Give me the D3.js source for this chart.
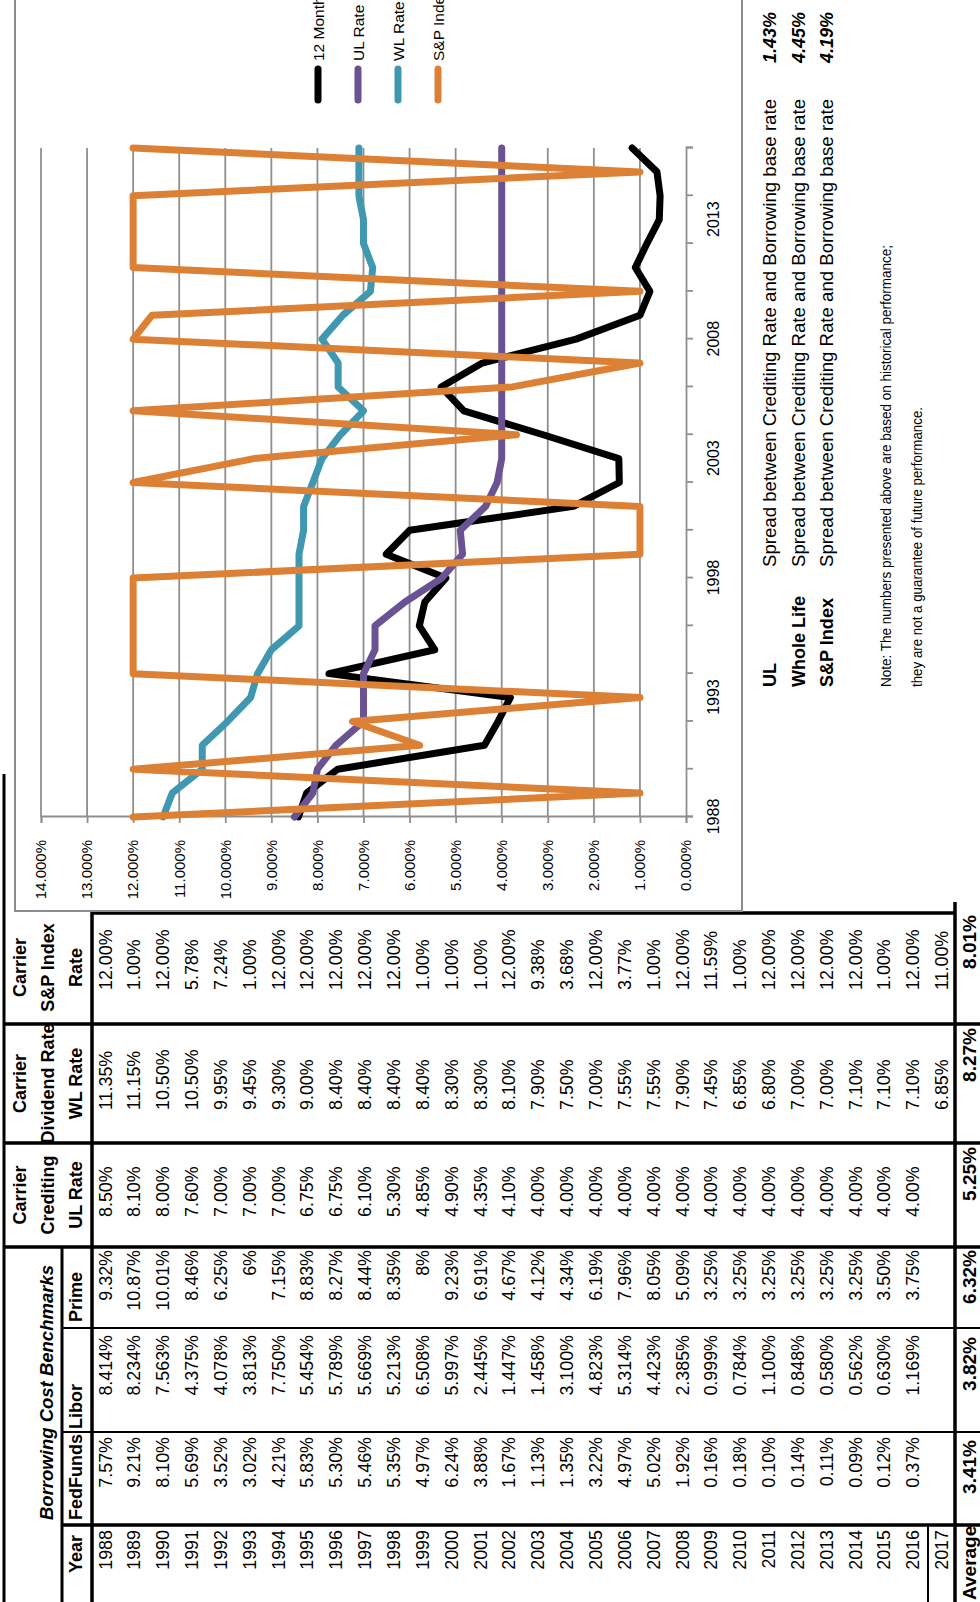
<!DOCTYPE html>
<html><head><meta charset="utf-8">
<script src="https://cdn.jsdelivr.net/npm/d3@7"></script>
<style>body{margin:0;background:#fff}svg{display:block}</style>
</head><body>
<svg id="c" width="980" height="1602"></svg>
<script>
// ---------------- data ----------------
const years = [1988,1989,1990,1991,1992,1993,1994,1995,1996,1997,1998,1999,2000,2001,2002,2003,2004,2005,2006,2007,2008,2009,2010,2011,2012,2013,2014,2015,2016,2017];
const fedFunds = [7.57,9.21,8.10,5.69,3.52,3.02,4.21,5.83,5.30,5.46,5.35,4.97,6.24,3.88,1.67,1.13,1.35,3.22,4.97,5.02,1.92,0.16,0.18,0.10,0.14,0.11,0.09,0.12,0.37];
const libor = [8.414,8.234,7.563,4.375,4.078,3.813,7.750,5.454,5.789,5.669,5.213,6.508,5.997,2.445,1.447,1.458,3.100,4.823,5.314,4.423,2.385,0.999,0.784,1.100,0.848,0.580,0.562,0.630,1.169];
const prime = [9.32,10.87,10.01,8.46,6.25,6,7.15,8.83,8.27,8.44,8.35,8,9.23,6.91,4.67,4.12,4.34,6.19,7.96,8.05,5.09,3.25,3.25,3.25,3.25,3.25,3.25,3.50,3.75];
const ulRate = [8.50,8.10,8.00,7.60,7.00,7.00,7.00,6.75,6.75,6.10,5.30,4.85,4.90,4.35,4.10,4.00,4.00,4.00,4.00,4.00,4.00,4.00,4.00,4.00,4.00,4.00,4.00,4.00,4.00];
const wlRate = [11.35,11.15,10.50,10.50,9.95,9.45,9.30,9.00,8.40,8.40,8.40,8.40,8.30,8.30,8.10,7.90,7.50,7.00,7.55,7.55,7.90,7.45,6.85,6.80,7.00,7.00,7.10,7.10,7.10,6.85];
const spRate = [12.00,1.00,12.00,5.78,7.24,1.00,12.00,12.00,12.00,12.00,12.00,1.00,1.00,1.00,12.00,9.38,3.68,12.00,3.77,1.00,12.00,11.59,1.00,12.00,12.00,12.00,12.00,1.00,12.00,11.00];
const averages = ["3.41%","3.82%","6.32%","5.25%","8.27%","8.01%"];
const valueTicks = [0,1,2,3,4,5,6,7,8,9,10,11,12,13,14];
const yearTicks = [1988,1990,1992,1994,1996,1998,2000,2002,2004,2006,2008,2010,2012,2014,2016];
const yearLabels = [1988,1993,1998,2003,2008,2013];
const seriesNames = ["12 Month Libor","UL Rate","WL Rate","S&P Index Rate"];
const spreadRows = [["UL","1.43%"],["Whole Life","4.45%"],["S&P Index","4.19%"]];
const spreadText = "Spread between Crediting Rate and Borrowing base rate";
const noteLines = ["Note: The numbers presented above are based on historical performance;","they are not a guarantee of future performance."];

// ---------------- setup ----------------
const FONT = "'Liberation Sans', Arial, sans-serif";
const svg = d3.select('#c');
// landscape page 1602 x 980 rotated -90deg
const L = svg.append('g').attr('transform','translate(0,1602) rotate(-90)');

function txt(g, x, y, s, o={}) {
  const t = g.append('text').attr('x',x).attr('y',y).text(s)
    .attr('font-family', o.family || FONT)
    .attr('font-size', o.size || 18)
    .attr('font-weight', o.bold ? 'bold' : 'normal')
    .attr('font-style', o.italic ? 'italic' : 'normal')
    .attr('text-anchor', o.anchor || 'start')
    .attr('fill', o.fill || '#000');
  if (o.len) t.attr('textLength', o.len).attr('lengthAdjust','spacingAndGlyphs');
  if (o.squeeze) {
    const w = t.node().getComputedTextLength();
    t.attr('textLength', w*o.squeeze).attr('lengthAdjust','spacingAndGlyphs');
  }
  return t;
}
function ln(g, x1,y1,x2,y2,w,c){
  g.append('line').attr('x1',x1).attr('y1',y1).attr('x2',x2).attr('y2',y2)
   .attr('stroke',c||'#000').attr('stroke-width',w);
}

// ---------------- table ----------------
const T = L.append('g');
const rowY = i => 111.5 + 28.85*i;
const cell = {size:19, squeeze:0.94};
// headers
txt(T, 82, 53, "Borrowing Cost Benchmarks", {bold:true, italic:true, len:255});
txt(T, 29, 82, "Year", {bold:true});
txt(T, 82, 82, "FedFunds", {bold:true});
txt(T, 173, 82, "Libor", {bold:true});
txt(T, 280, 82, "Prime", {bold:true});
const carrierHdr = [[407,["Carrier","Crediting","UL Rate"]],[518.5,["Carrier","Dividend Rate","WL Rate"]],[634.5,["Carrier","S&P Index","Rate"]]];
carrierHdr.forEach(([cx, lines]) => lines.forEach((s,k)=> txt(T, cx, 25.5 + 28*k, s, {bold:true, anchor:'middle'})));

// data rows
const fmt2 = d => d.toFixed(2)+'%';
const fmt3 = d => d.toFixed(3)+'%';
const fmtP = d => Number.isInteger(d) ? d+'%' : d.toFixed(2)+'%';
years.forEach((yr,i) => txt(T, 72, rowY(i), String(yr), {...cell, anchor:'end'}));
fedFunds.forEach((v,i)=> txt(T, 165, rowY(i), fmt2(v), {...cell, anchor:'end'}));
libor.forEach((v,i)=> txt(T, 267, rowY(i), fmt3(v), {...cell, anchor:'end'}));
prime.forEach((v,i)=> txt(T, 352, rowY(i), fmtP(v), {...cell, anchor:'end'}));
ulRate.forEach((v,i)=> txt(T, 385, rowY(i), fmt2(v), cell));
wlRate.forEach((v,i)=> txt(T, 492, rowY(i), fmt2(v), cell));
spRate.forEach((v,i)=> txt(T, 612, rowY(i), fmt2(v), cell));
// average row
txt(T, 2, 976, "Average", {bold:true, size:19});
[162,265,352,455,574,687].forEach((x,k)=> txt(T, x, 976, averages[k], {bold:true, size:19, anchor:'end'}));

// table lines
ln(T, 0,4, 828,4, 3);
ln(T, 0,62, 355,62, 3);
ln(T, 0,92, 691,92, 3.5);
ln(T, 77,62, 77,980, 3.5);
ln(T, 170,62, 170,980, 2);
ln(T, 274,62, 274,980, 2);
ln(T, 355,4, 355,980, 3.5);
ln(T, 459,4, 459,980, 3.5);
ln(T, 578,4, 578,980, 3.5);
ln(T, 0,928, 77,928, 2);
ln(T, 0,955, 700,955, 3.5);

// ---------------- chart area ----------------
const C = L.append('g');
C.append('rect').attr('x',691).attr('y',15).attr('width',1000).attr('height',727)
  .attr('fill','#fff').attr('stroke','#8c8c8c').attr('stroke-width',2);
ln(T, 689,92, 689,955, 3.5);

const x = d3.scaleLinear().domain([1988,2016]).range([785,1454]);
const y = d3.scaleLinear().domain([0,14]).range([686,41]);

// gridlines
C.append('g').selectAll('line').data(valueTicks.filter(v=>v>0)).join('line')
  .attr('x1',x(1988)).attr('x2',x(2016)).attr('y1',d=>y(d)).attr('y2',d=>y(d))
  .attr('stroke','#8f8f8f').attr('stroke-width',1.8);

// value axis
const ya = C.append('g').attr('transform',`translate(${x(1988)},0)`)
  .call(d3.axisLeft(y).tickValues(valueTicks).tickFormat(d=>d.toFixed(3)+'%').tickSize(6).tickPadding(17));
ya.select('.domain').attr('stroke','#8f8f8f').attr('stroke-width',1.8);
ya.selectAll('.tick line').attr('stroke','#8f8f8f').attr('stroke-width',1.8);
ya.selectAll('text').attr('font-family',FONT).attr('font-size',15).attr('fill','#000');

// category axis
const xa = C.append('g').attr('transform',`translate(0,${y(0)})`)
  .call(d3.axisBottom(x).tickValues(yearTicks).tickFormat('').tickSize(7));
xa.select('.domain').attr('stroke','#8f8f8f').attr('stroke-width',1.8);
xa.selectAll('.tick line').attr('stroke','#8f8f8f').attr('stroke-width',1.8);
const xl = C.append('g').attr('transform',`translate(0,${y(0)})`)
  .call(d3.axisBottom(x).tickValues(yearLabels).tickFormat(d=>String(d)).tickSize(0).tickPadding(21.5));
xl.select('.domain').remove();
xl.selectAll('text').attr('font-family',FONT).attr('font-size',16).attr('fill','#000');

// series
const colors = ['#000000','#6b5393','#3f97b0','#dc8036'];
const chartYears = years.filter(yr => yr <= 2016);
const series = [libor, ulRate, wlRate, spRate].map(arr => chartYears.map((yr,i)=>[yr, arr[i]]));
const line = d3.line().x(d=>x(d[0])).y(d=>y(d[1]));
C.append('g').selectAll('path').data(series).join('path')
  .attr('d', line).attr('fill','none')
  .attr('stroke',(d,i)=>colors[i]).attr('stroke-width',7)
  .attr('stroke-linejoin','round').attr('stroke-linecap','round');

// legend
const lg = C.append('g');
seriesNames.forEach((n,k)=>{
  const yy = 318 + 40*k;
  lg.append('line').attr('x1',1502).attr('x2',1533).attr('y1',yy).attr('y2',yy)
    .attr('stroke',colors[k]).attr('stroke-width',7).attr('stroke-linecap','round');
  txt(lg, 1541, yy+5.5, n, {size:15.5});
});

// ---------------- spread notes ----------------
const S = L.append('g');
spreadRows.forEach(([lab,val],k)=>{
  const by = 776 + 28.5*k;
  txt(S, 915, by, lab, {bold:true, size:19, len: lab==='UL'?24:(lab==='Whole Life'?91:89)});
  txt(S, 1035, by, spreadText, {size:19, len:468});
  txt(S, 1539, by, val, {bold:true, italic:true, size:19, len:51});
});
txt(S, 915, 891, noteLines[0], {size:15, len:442});
txt(S, 915, 922, noteLines[1], {size:15, len:280});
</script>
</body></html>
